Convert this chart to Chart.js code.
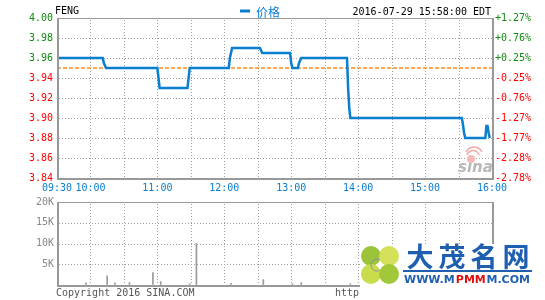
<!DOCTYPE html>
<html>
<head>
<meta charset="utf-8">
<script src="https://cdn.jsdelivr.net/npm/chart.js@4/dist/chart.umd.min.js"></script>
<style>
  html, body { margin: 0; padding: 0; background: #fff; }
  #wrap { position: relative; width: 545px; height: 300px; overflow: hidden; background: #fff; }
  #price { position: absolute; left: 0; top: 0; }
  #vol { position: absolute; left: 0; top: 190px; }
</style>
</head>
<body>
<div id="wrap">
  <canvas id="price" width="545" height="200"></canvas>
  <canvas id="vol" width="545" height="110"></canvas>
</div>
<script>
// ---- data ----
const symbol = 'FENG';
const seriesName = '价格';
const stamp = '2016-07-29 15:58:00 EDT';
const prevClose = 3.95;

// minutes after 09:30
const priceMinutes = [0, 41, 42, 44, 90, 91, 92, 117, 118, 119, 154, 155, 157, 182, 184, 209, 210, 211, 216, 217, 219, 260, 261, 262, 263, 363, 364, 365, 366, 384, 385, 386, 387, 388];
const priceValues  = [3.96, 3.96, 3.955, 3.95, 3.95, 3.94, 3.93, 3.93, 3.94, 3.95, 3.95, 3.96, 3.97, 3.97, 3.965, 3.965, 3.955, 3.95, 3.95, 3.955, 3.96, 3.96, 3.93, 3.91, 3.90, 3.90, 3.893, 3.885, 3.88, 3.88, 3.892, 3.892, 3.885, 3.88];

const volMinutes = [0, 26, 45, 52, 65, 86, 93, 119, 125, 156, 185, 211, 219, 263];
const volValues  = [300, 500, 2200, 550, 600, 3000, 800, 300, 10000, 400, 1300, 300, 600, 300];

const timeTicks  = [0, 30, 90, 150, 210, 270, 330, 390];
const timeLabels = ['09:30', '10:00', '11:00', '12:00', '13:00', '14:00', '15:00', '16:00'];

const priceMin = 3.84, priceMax = 4.00, priceStep = 0.02;
const volMax = 20000, volStep = 5000;

// ---- styling ----
const MONO = '"DejaVu Sans Mono", "Liberation Mono", monospace';
const GREEN = '#118a11', RED = '#ff0000', BLUE = '#0a7ecf', GRID = '#a0a0a0', FRAME = '#999999';
Chart.defaults.font.family = MONO;
Chart.defaults.font.size = 10;
Chart.defaults.animation = false;

const pricePts = priceMinutes.map((m, i) => ({ x: m, y: priceValues[i] }));
const volPts = volMinutes.map((m, i) => ({ x: m, y: volValues[i] }));

function upDownColor(v) {
  if (Math.abs(v - prevClose) < 1e-9) return '#000';
  return v > prevClose ? GREEN : RED;
}
function xLabel(v) {
  const i = timeTicks.indexOf(Math.round(v));
  return i >= 0 ? timeLabels[i] : '';
}

// crisp dotted grid drawn from the chart's own scales
const dotGridPlugin = {
  id: 'dotGrid',
  beforeDatasetsDraw(chart) {
    const { ctx, chartArea: a, scales } = chart;
    const xs = scales.x, ys = scales.y;
    const L = Math.round(a.left), R = Math.round(a.right), T = Math.round(a.top), B = Math.round(a.bottom);
    ctx.save();
    ctx.fillStyle = GRID;
    xs.ticks.forEach(t => {
      const px = Math.round(xs.getPixelForValue(t.value));
      if (px <= L + 1 || px >= R - 1) return;
      for (let y = T + 2; y < B; y += 3) ctx.fillRect(px, y, 1, 1);
    });
    ys.ticks.forEach(t => {
      const py = Math.round(ys.getPixelForValue(t.value));
      if (py <= T + 1 || py >= B - 1) return;
      for (let x = L + 2; x < R; x += 3) ctx.fillRect(x, py, 1, 1);
    });
    ctx.restore();
  }
};

const framePlugin = {
  id: 'frame',
  afterDraw(chart) {
    const { ctx, chartArea: a } = chart;
    ctx.save();
    ctx.fillStyle = FRAME;
    const L = Math.round(a.left), R = Math.round(a.right), T = Math.round(a.top), B = Math.round(a.bottom);
    ctx.fillRect(L, T, R - L, 1);
    ctx.fillRect(L, B, R - L + 1, 2);
    ctx.fillRect(L, T, 2, B - T);
    ctx.fillRect(R, T, 2, B - T + 2);
    ctx.restore();
  }
};

const headerPlugin = {
  id: 'header',
  beforeDatasetsDraw(chart) {
    const { ctx } = chart;
    // sina watermark
    ctx.save();
    ctx.fillStyle = '#b8b8b8';
    ctx.font = 'italic bold 15px "DejaVu Sans", sans-serif';
    ctx.textBaseline = 'alphabetic';
    ctx.fillText('sina', 458, 172);
    ctx.strokeStyle = '#f4a8a8';
    ctx.fillStyle = '#f4b8b8';
    ctx.lineWidth = 1.5;
    ctx.beginPath(); ctx.arc(471, 159, 4, 0, Math.PI * 2); ctx.fill();
    ctx.beginPath(); ctx.arc(473, 157, 6.5, Math.PI * 1.1, Math.PI * 1.9); ctx.stroke();
    ctx.beginPath(); ctx.arc(474, 156, 9, Math.PI * 1.15, Math.PI * 1.85); ctx.stroke();
    ctx.restore();
  },
  afterDraw(chart) {
    const { ctx } = chart;
    ctx.save();
    ctx.textBaseline = 'middle';
    ctx.font = '10px ' + MONO;
    ctx.fillStyle = '#000';
    ctx.textAlign = 'left';
    ctx.fillText(symbol, 55, 11);
    ctx.textAlign = 'right';
    ctx.fillText(stamp, 491, 12);
    // legend
    ctx.strokeStyle = BLUE;
    ctx.lineWidth = 3;
    ctx.beginPath(); ctx.moveTo(240, 11); ctx.lineTo(250, 11); ctx.stroke();
    ctx.fillStyle = BLUE;
    ctx.textAlign = 'left';
    ctx.font = '12px "Noto Sans CJK SC", sans-serif';
    ctx.fillText(seriesName, 256, 12);
    ctx.restore();
  }
};

new Chart(document.getElementById('price'), {
  type: 'line',
  data: {
    datasets: [
      { label: seriesName, data: pricePts, borderColor: BLUE, borderWidth: 2.5, pointRadius: 0, tension: 0, fill: false, yAxisID: 'y', borderJoinStyle: 'miter' },
      { label: 'prev', data: [{ x: 0, y: prevClose }, { x: 390, y: prevClose }], borderColor: '#ff8c1a', borderWidth: 1.5, borderDash: [4, 2], pointRadius: 0, fill: false, yAxisID: 'y' }
    ]
  },
  options: {
    responsive: false,
    devicePixelRatio: 1,
    layout: { padding: { top: 18, left: 0, right: 0, bottom: 0 } },
    plugins: { legend: { display: false }, title: { display: false }, tooltip: { enabled: false } },
    scales: {
      x: {
        type: 'linear', min: 0, max: 390, position: 'bottom',
        afterBuildTicks(s) { s.ticks = Array.from({ length: 14 }, (_, i) => ({ value: i * 30 })); },
        ticks: { autoSkip: false, maxRotation: 0, color: BLUE, padding: 4, font: { size: 10 }, callback: v => xLabel(v) },
        grid: { drawOnChartArea: false, drawTicks: false },
        border: { display: false },
        afterFit(s) { s.height = 22; }
      },
      y: {
        type: 'linear', position: 'left', min: priceMin, max: priceMax,
        ticks: { stepSize: priceStep, padding: 4, font: { size: 10 }, color: c => upDownColor(c.tick.value), callback: v => v.toFixed(2) },
        grid: { drawOnChartArea: false, drawTicks: false },
        border: { display: false },
        afterFit(s) { s.width = 57; }
      },
      yr: {
        type: 'linear', position: 'right', min: priceMin, max: priceMax,
        ticks: {
          stepSize: priceStep, padding: 3, font: { size: 10 },
          color: c => upDownColor(c.tick.value),
          callback: v => { const p = (v / prevClose - 1) * 100; return (p >= 0 ? '+' : '') + p.toFixed(2) + '%'; }
        },
        grid: { drawOnChartArea: false, drawTicks: false },
        border: { display: false },
        afterFit(s) { s.width = 53; }
      }
    }
  },
  plugins: [dotGridPlugin, framePlugin, headerPlugin]
});

const footerPlugin = {
  id: 'footer',
  afterDraw(chart) {
    const { ctx } = chart;
    ctx.save();
    ctx.textBaseline = 'middle';
    ctx.font = '10px ' + MONO;
    ctx.fillStyle = '#555';
    ctx.textAlign = 'left';
    ctx.fillText('Copyright 2016 SINA.COM', 56, 103);
    ctx.fillText('http://finance.sina.com.cn', 335, 103);
    // logo panel
    const oy = -190;
    ctx.fillStyle = '#fff';
    ctx.fillRect(360, 244 + oy, 185, 60);
    // clover
    const cx = 380, cy = 265 + oy;
    const leaves = [[-9, -9, '#9cc43a'], [9, -9, '#d4e05a'], [-9, 9, '#c8dc4c'], [9, 9, '#a0c838']];
    leaves.forEach(([dx, dy, col]) => {
      ctx.fillStyle = col;
      ctx.beginPath(); ctx.ellipse(cx + dx, cy + dy, 10, 10, 0, 0, Math.PI * 2); ctx.fill();
    });
    ctx.strokeStyle = '#8a8ab0';
    ctx.lineWidth = 1;
    ctx.beginPath(); ctx.arc(cx - 3, cy, 6, Math.PI * 0.4, Math.PI * 1.6); ctx.stroke();
    // chinese name
    ctx.fillStyle = '#1f5fb0';
    ctx.font = 'bold 27px "Noto Sans CJK SC", sans-serif';
    ctx.textAlign = 'center';
    ctx.textBaseline = 'middle';
    const name = ['大', '茂', '名', '网'];
    name.forEach((ch, i) => ctx.fillText(ch, 420 + i * 32, 257 + oy));
    ctx.fillRect(403, 270 + oy, 129, 2);
    // url
    ctx.font = 'bold 11px "DejaVu Sans", sans-serif';
    ctx.textAlign = 'left';
    const segs = [['WWW.M', '#1f5fb0'], ['PMM', '#e01010'], ['M.COM', '#1f5fb0']];
    let x = 404;
    const total = segs.reduce((t, s) => t + ctx.measureText(s[0]).width, 0);
    const k = 127 / total;
    segs.forEach(([t, col]) => {
      const w = ctx.measureText(t).width * k;
      ctx.fillStyle = col;
      ctx.fillText(t, x, 280 + oy, w);
      x += w;
    });
    ctx.restore();
  }
};

new Chart(document.getElementById('vol'), {
  type: 'bar',
  data: { datasets: [{ data: volPts, backgroundColor: '#999', barThickness: 1, borderWidth: 0 }] },
  options: {
    responsive: false,
    devicePixelRatio: 1,
    layout: { padding: { top: 12, left: 0, right: 53, bottom: 0 } },
    plugins: { legend: { display: false }, tooltip: { enabled: false } },
    scales: {
      x: {
        type: 'linear', min: 0, max: 390, offset: false,
        afterBuildTicks(s) { s.ticks = Array.from({ length: 14 }, (_, i) => ({ value: i * 30 })); },
        ticks: { display: false },
        grid: { drawOnChartArea: false, drawTicks: false, offset: false },
        border: { display: false },
        afterFit(s) { s.height = 15; }
      },
      y: {
        min: 0, max: volMax,
        ticks: { stepSize: volStep, padding: 3, color: '#888', font: { size: 10 }, callback: v => v ? (v / 1000) + 'K' : '' },
        grid: { drawOnChartArea: false, drawTicks: false },
        border: { display: false },
        afterFit(s) { s.width = 57; }
      }
    }
  },
  plugins: [dotGridPlugin, framePlugin, footerPlugin]
});
</script>
</body>
</html>
